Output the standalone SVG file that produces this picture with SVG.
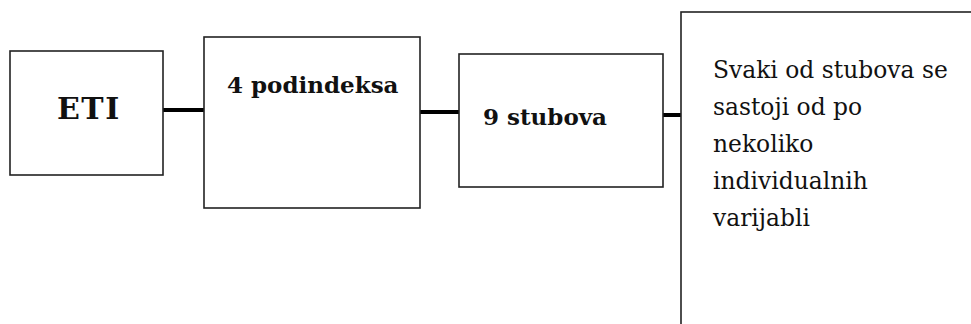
<svg xmlns="http://www.w3.org/2000/svg" width="971" height="324" viewBox="0 0 971 324">
<style>
.box{fill:#fff;stroke:#222;stroke-width:1.6}
.lbl{font-family:"DejaVu Serif","Liberation Serif",serif;font-weight:bold;fill:#111}
.txt{font-family:"DejaVu Serif","Liberation Serif",serif;font-size:23.4px;fill:#111}
.con{stroke:#000;stroke-width:4;fill:none}
</style>
<rect width="971" height="324" fill="#fff"/>
<g id="connectors">
<line class="con" x1="163" y1="110" x2="205" y2="110"/>
<line class="con" x1="420" y1="112" x2="460" y2="112"/>
<line class="con" x1="663" y1="115" x2="682" y2="115"/>
</g>
<g id="eti">
<rect class="box" x="10" y="51" width="153" height="124"/>
<text class="lbl" x="57" y="119" font-size="30" letter-spacing="1.5">ETI</text>
</g>
<g id="podindeksa">
<rect class="box" x="204" y="37" width="216" height="171"/>
<text class="lbl" x="227" y="93" font-size="23">4 podindeksa</text>
</g>
<g id="stubova">
<rect class="box" x="459" y="54" width="204" height="133"/>
<text class="lbl" x="483" y="125" font-size="23">9 stubova</text>
</g>
<g id="opis">
<rect class="box" x="681" y="12" width="400" height="400"/>
<text class="txt" x="713" y="78">Svaki od stubova se</text>
<text class="txt" x="713" y="115">sastoji od po</text>
<text class="txt" x="713" y="152">nekoliko</text>
<text class="txt" x="713" y="189">individualnih</text>
<text class="txt" x="713" y="226">varijabli</text>
</g>
</svg>
